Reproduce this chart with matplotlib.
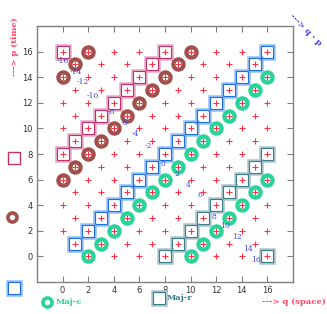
import numpy as np
import matplotlib
matplotlib.use("Agg")
import matplotlib.pyplot as plt
from matplotlib.lines import Line2D

# lattice of the space-time grid
grid_q = list(range(17))
grid_p = list(range(17))
skip_points = [(0, 0)]

# diagonals (q - p) carrying each marker kind
mag_sq_diags = [-16, -8]
brown_c_diags = [-14, -6]
blue_sq_diags = [0]
green_c_diags = [2, 10]
teal_sq_diags = [8, 16]
blue_sq_skip = [(0, 0)]

# q - p labels along the anti-diagonal
diag_vals = [-16, -14, -12, -10, -8, -6, -4, -2, 0, 2, 4, 6, 8, 10, 12, 14, 16]
diag_q = [0.0, 1.0, 1.6, 2.4, 3.8, 4.8, 5.7, 6.7, 7.8, 8.9, 9.8, 10.7, 11.8, 12.7, 13.6, 14.5, 15.1]
diag_p = [15.3, 14.4, 13.6, 12.5, 11.3, 10.4, 9.6, 8.6, 7.2, 6.4, 5.6, 4.8, 3.1, 2.4, 1.5, 0.6, -0.3]

ticks = [0, 2, 4, 6, 8, 10, 12, 14, 16]

RED = '#ff3348'
MAG, MAG_L = '#c0306a', '#e6a8c6'
BROWN = '#a3504c'
BLUE, BLUE_L = '#1c6fdc', '#94bdf2'
GREEN = '#28d49a'
TEAL, TEAL_L = '#3d7d8a', '#a6c6cc'
LBLUE = '#4848e0'


def diag_points(diags, skip=()):
    pts = []
    for d in diags:
        for q in grid_q:
            p = q - d
            if p in grid_p and (q, p) not in skip:
                pts.append((q, p))
    return np.array(pts).T


fig = plt.figure(figsize=(3.27, 3.14), dpi=100)
ax = fig.add_axes([37 / 327, 1 - 282 / 314, 256 / 327, 256 / 314])
ax.set_xlim(-2, 18)
ax.set_ylim(-2, 18)


def squares(pts, dark, light):
    ax.plot(pts[0], pts[1], 's', ms=9.4, mfc='none', mec=light, mew=1.8, zorder=2)
    ax.plot(pts[0], pts[1], 's', ms=8.6, mfc='none', mec=dark, mew=0.8, zorder=2)


def circles(pts, col):
    ax.plot(pts[0], pts[1], 'o', ms=7.4, mfc='white', mec=col, mew=3.0, zorder=2)


squares(diag_points(mag_sq_diags), MAG, MAG_L)
squares(diag_points(blue_sq_diags, blue_sq_skip), BLUE, BLUE_L)
squares(diag_points(teal_sq_diags), TEAL, TEAL_L)
circles(diag_points(brown_c_diags), BROWN)
circles(diag_points(green_c_diags), GREEN)

pq, pp = [], []
for q in grid_q:
    for p in grid_p:
        if (q + p) % 2 == 0 and (q, p) not in skip_points:
            pq.append(q)
            pp.append(p)
ax.plot(pq, pp, '+', ms=4.2, mew=0.8, color=RED, zorder=3)

for v, x, y in zip(diag_vals, diag_q, diag_p):
    ax.text(x, y, str(v), color=LBLUE, fontsize=5.5, family='DejaVu Serif',
            ha='center', va='center', zorder=4)

ax.set_xticks(ticks)
ax.set_yticks(ticks)
ax.tick_params(direction='in', top=True, right=True, length=4, width=0.8,
               color='#808080', labelsize=6, pad=3, labelcolor='#333333')
for s in ax.spines.values():
    s.set_color('#808080')
    s.set_linewidth(1.0)

# outside texts
fig.text(15 / 327, 1 - 47 / 314, '---> p (time)', rotation=90, color='#ff4468',
         fontsize=6, family='DejaVu Serif', weight='bold', ha='center', va='center')
fig.text(306 / 327, 1 - 30 / 314, '---> q - p', rotation=-45, color=LBLUE,
         fontsize=6, family='DejaVu Serif', weight='bold', ha='center', va='center')
fig.text(262 / 327, 1 - 302 / 314, '---> q (space)', color='#ff4468',
         fontsize=6, family='DejaVu Serif', weight='bold', ha='left', va='center')
fig.text(56 / 327, 1 - 302 / 314, 'Maj-c', color=GREEN,
         fontsize=6, family='DejaVu Serif', weight='bold', ha='left', va='center')
fig.text(167 / 327, 1 - 298 / 314, 'Maj-r', color=TEAL,
         fontsize=6, family='DejaVu Serif', weight='bold', ha='left', va='center')

# key markers outside the frame
def key(x, y, **kw):
    fig.add_artist(Line2D([x / 327], [1 - y / 314], transform=fig.transFigure, **kw))

key(14, 158, marker='s', ms=8.5, mfc='none', mec=MAG, mew=1.0)
key(12, 217, marker='o', ms=6.5, mfc='white', mec=BROWN, mew=2.6)
key(14, 288, marker='s', ms=9.4, mfc='none', mec=BLUE_L, mew=1.8)
key(14, 288, marker='s', ms=8.6, mfc='none', mec=BLUE, mew=0.8)
key(47, 302, marker='o', ms=6.5, mfc='white', mec=GREEN, mew=2.6)
key(159, 298, marker='s', ms=9.4, mfc='none', mec=TEAL_L, mew=1.8)
key(159, 298, marker='s', ms=8.6, mfc='none', mec=TEAL, mew=0.8)

fig.savefig('out.png', dpi=100)
